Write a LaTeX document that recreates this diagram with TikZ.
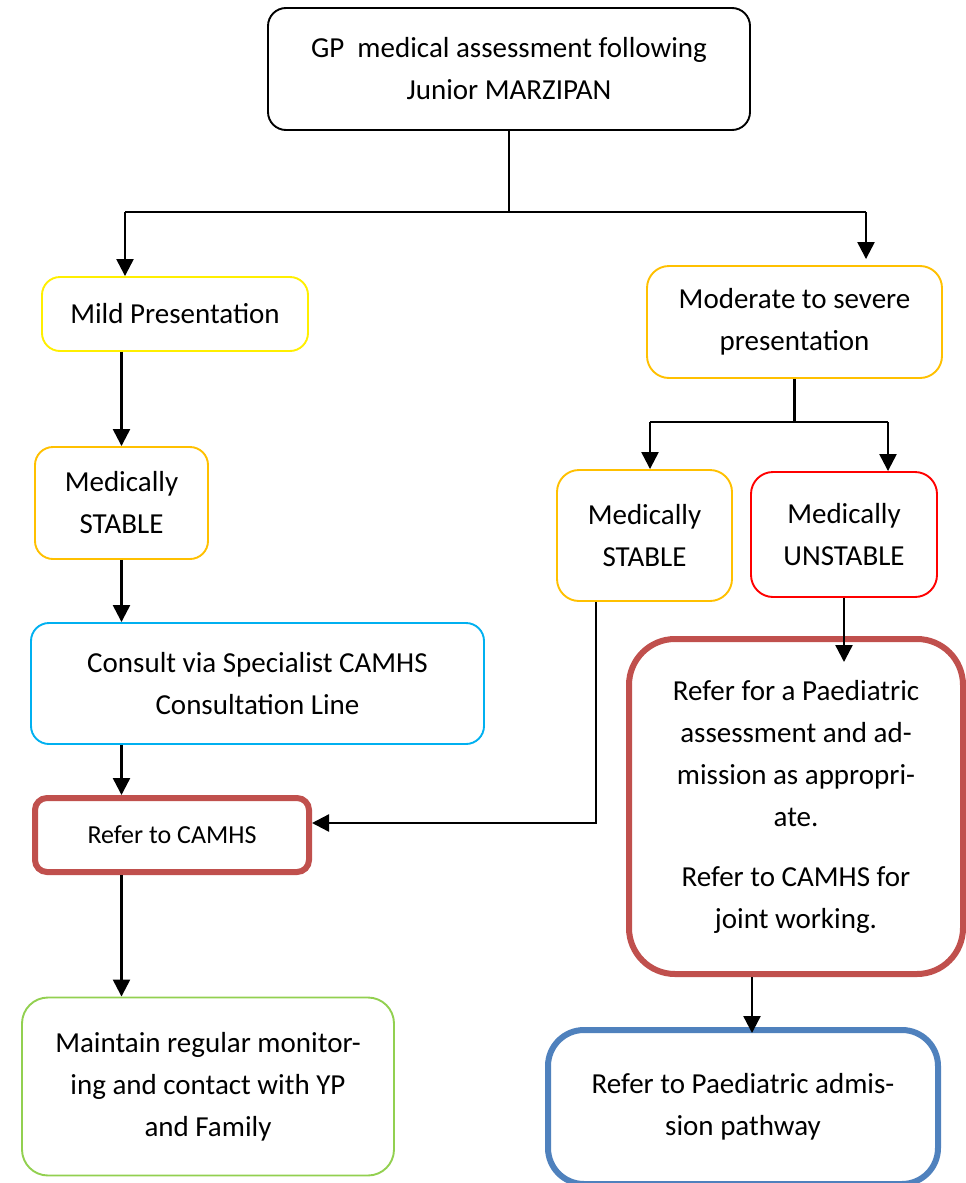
\documentclass[tikz,border=0pt]{standalone}
\usepackage{fontspec}
\setmainfont{Carlito}
\usepackage{xcolor}
\usepackage{tikz}
\usetikzlibrary{positioning,arrows.meta}
\definecolor{cYel}{HTML}{FFEF00}
\definecolor{cGold}{HTML}{FFC000}
\definecolor{cCyan}{HTML}{00B0F0}
\definecolor{cRed}{HTML}{FF0000}
\definecolor{cGrn}{HTML}{92D050}
\definecolor{cBrick}{HTML}{C0504D}
\definecolor{cBlue}{HTML}{4F81BD}

\begin{document}
\begin{tikzpicture}[x=1pt, y=-1pt,
  font=\fontsize{29}{42}\selectfont, >={Triangle[length=17pt,width=17pt]},
  line width=2.4pt,
  blk/.style={draw, rounded corners=18pt, line width=1.9pt, align=center,
              fill=white, inner sep=0pt},
  thin/.style={blk, draw=#1},
  thick/.style={blk, draw=#1, line width=6pt},
]
  \useasboundingbox (0,0) rectangle (966,1183);
  % top
  \node[blk, minimum width=482, minimum height=122] (gp) at (509,69)
    {GP~~medical assessment following\\Junior MARZIPAN};
  % left branch
  \node[thin=cYel, minimum width=266, minimum height=74] (mild) at (175,314)
    {Mild Presentation};
  \node[thin=cGold, minimum width=173, minimum height=112] (stl) at (121.5,503)
    {Medically\\STABLE};
  \node[thin=cCyan, minimum width=453, minimum height=121] (cons) at (257.5,683.5)
    {Consult via Specialist CAMHS\\Consultation Line};
  \node[thick=cBrick, rounded corners=12pt, minimum width=274, minimum height=74,
        font=\fontsize{26}{36}\selectfont] (camhs) at (172,835) {Refer to CAMHS};
  \node[thin=cGrn, rounded corners=26pt, minimum width=372, minimum height=178]
    (mon) at (208,1086.5)
    {Maintain regular monitor-\\ing and contact with YP\\and Family};
  % right branch
  \node[thin=cGold, rounded corners=22pt, minimum width=295, minimum height=112]
    (mod) at (794.5,322) {Moderate to severe\\presentation};
  \node[thin=cGold, rounded corners=22pt, minimum width=175, minimum height=131]
    (str) at (644.5,535.5) {Medically\\STABLE};
  \node[thin=cRed, rounded corners=22pt, minimum width=186, minimum height=125]
    (unst) at (844,534.5) {Medically\\UNSTABLE};
  \node[thick=cBrick, rounded corners=46pt, minimum width=334, minimum height=335]
    (paed) at (796,806.5)
    {Refer for a Paediatric\\assessment and ad-\\mission as appropri-\\ate.\\[18pt]
     Refer to CAMHS for\\joint working.};
  \node[thick=cBlue, rounded corners=36pt, minimum width=390, minimum height=154]
    (adm) at (743,1107) {Refer to Paediatric admis-\\sion pathway};
  % junctions
  \coordinate (jl) at (125,212);
  \coordinate (jr) at (866,212);
  \coordinate (ml) at (650,422);
  \coordinate (mr) at (888,422);
  \coordinate (bend) at (596,823);
  % connectors
  \draw (gp.south) -- (gp.south |- jl);
  \draw (jl) -- (jr);
  \draw[->] (jl) -- (jl |- mild.north);
  \draw[->, shorten >=6] (jr) -- (jr |- mod.north);
  \draw[->] (mild.south -| stl.north) -- (stl.north);
  \draw[->] (stl.south) -- (stl.south |- cons.north);
  \draw[->] (cons.south -| stl) -- (camhs.north -| stl);
  \draw[->] (camhs.south -| stl) -- (mon.north -| stl);
  \draw (mod.south) -- (mod.south |- ml);
  \draw (ml) -- (mr);
  \draw[->] (ml) -- (ml |- str.north);
  \draw[->] (mr) -- (mr |- unst.north);
  \draw[->] (str.south -| bend) -- (bend) -- (bend -| camhs.east);
  \draw[->, shorten >=-26] (unst.south) -- (unst.south |- paed.north);
  \draw[->, shorten >=-6] ([xshift=-44]paed.south) -- ([xshift=-44]paed.south |- adm.north);
\end{tikzpicture}
\end{document}
